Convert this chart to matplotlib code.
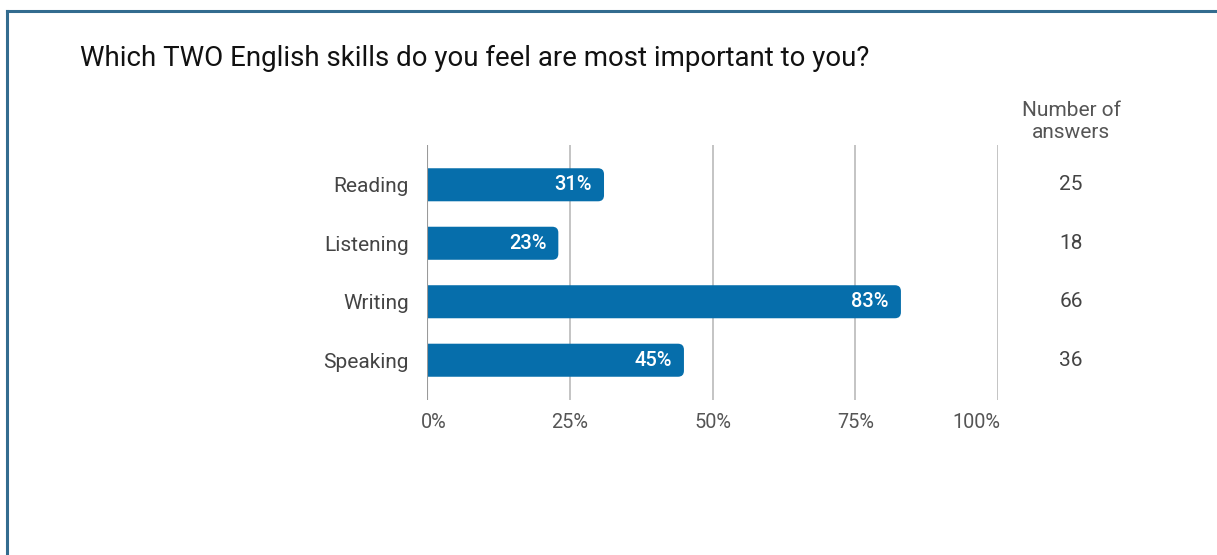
import matplotlib
import matplotlib.pyplot as plt
from matplotlib.lines import Line2D
from matplotlib.patches import PathPatch
from matplotlib.path import Path

matplotlib.use("agg")

plt.rcParams["font.family"] = ["Roboto", "DejaVu Sans"]

TITLE = "Which TWO English skills do you feel are most important to you?"
skills = ["Reading", "Listening", "Writing", "Speaking"]
share_pct = [31, 23, 83, 45]
answer_counts = [25, 18, 66, 36]
x_ticks = [0, 25, 50, 75, 100]
x_tick_labels = ["0%", "25%", "50%", "75%", "100%"]

W, H = 1217, 555
BAR_COLOR = "#066eab"
GRID_COLOR = "#c4c4c4"
LABEL_COLOR = "#444444"
TICK_COLOR = "#555555"


def fx(px):
    return px / W


def fy(py):
    return 1 - py / H


def right_rounded(x0, y0, w, h, rx, ry):
    # bar outline with square left end and rounded right corners
    verts = [
        (x0, y0), (x0 + w - rx, y0), (x0 + w, y0), (x0 + w, y0 + ry),
        (x0 + w, y0 + h - ry), (x0 + w, y0 + h), (x0 + w - rx, y0 + h),
        (x0, y0 + h), (x0, y0),
    ]
    codes = [
        Path.MOVETO, Path.LINETO, Path.CURVE3, Path.CURVE3,
        Path.LINETO, Path.CURVE3, Path.CURVE3,
        Path.LINETO, Path.CLOSEPOLY,
    ]
    return Path(verts, codes)


fig = plt.figure(figsize=(W / 100, H / 100), dpi=100, facecolor="white")

# frame drawn around the card (only top and left edges fall inside)
fig.add_artist(Line2D([fx(7), fx(7)], [fy(11), 0], color="#336c8f", lw=2.2,
                      transform=fig.transFigure))
fig.add_artist(Line2D([fx(7), 1], [fy(11), fy(11)], color="#336c8f", lw=2.2,
                      transform=fig.transFigure))

fig.text(fx(80), fy(58), TITLE, fontsize=19.9, color="#111111",
         ha="left", va="center")

# plot area: 0% at x=427, 100% at x=998, rows between y=145 and y=400
ax = fig.add_axes([fx(427), fy(400), fx(998) - fx(427), fy(145) - fy(400)])
ax.set_xlim(0, 100)
ax.set_ylim(3.68, -0.68)
for s in ax.spines.values():
    s.set_visible(False)
ax.set_xticks([])
ax.set_yticks(range(len(skills)))
ax.set_yticklabels(skills, fontsize=15, color=LABEL_COLOR)
ax.tick_params(axis="y", length=0, pad=13)

for t in x_ticks[1:]:
    ax.axvline(t, color=GRID_COLOR, lw=1.4, zorder=0)
ax.axvline(0, color="#9a9a9a", lw=1.5, zorder=4)

bar_h = 0.565
bars = ax.barh(range(len(skills)), share_pct, height=bar_h, color=BAR_COLOR,
               zorder=2)

px_x = 100 / 571.0
px_y = 1 / 58.5
for bar, v in zip(bars, share_pct):
    x0, y0 = bar.get_x(), bar.get_y()
    w, h = bar.get_width(), bar.get_height()
    bar.set_visible(False)
    ax.add_patch(PathPatch(right_rounded(x0, y0, w, h, 6 * px_x, 6 * px_y),
                           fc=BAR_COLOR, ec="none", zorder=2))
    ax.text(x0 + w - 12 * px_x, y0 + h / 2, f"{v}%", color="white",
            fontsize=14.5, fontweight="medium", ha="right", va="center",
            zorder=3)

# percentage ticks under the plot; the end labels are kept inside the range
xt = ax.get_xaxis_transform()
label_y = -22 / 255.0
for t, lab in zip(x_ticks, x_tick_labels):
    if t == x_ticks[0]:
        ax.text(t - 1.0, label_y, lab, transform=xt, ha="left", va="center",
                fontsize=14.3, color=TICK_COLOR)
    elif t == x_ticks[-1]:
        ax.text(t + 0.5, label_y, lab, transform=xt, ha="right", va="center",
                fontsize=14.3, color=TICK_COLOR)
    else:
        ax.text(t, label_y, lab, transform=xt, ha="center", va="center",
                fontsize=14.3, color=TICK_COLOR)

# answer counts column
fig.text(fx(1071), fy(110), "Number of", ha="center", va="center",
         fontsize=15, color=TICK_COLOR)
fig.text(fx(1071), fy(133), "answers", ha="center", va="center",
         fontsize=15, color=TICK_COLOR)
yt = ax.get_yaxis_transform()
col_x = (1071 - 427) / 571.0
for i, n in enumerate(answer_counts):
    ax.text(col_x, i, str(n), transform=yt, ha="center", va="center",
            fontsize=15, color=LABEL_COLOR, clip_on=False)

fig.savefig("out.png", dpi=100, facecolor="white")
plt.close(fig)
